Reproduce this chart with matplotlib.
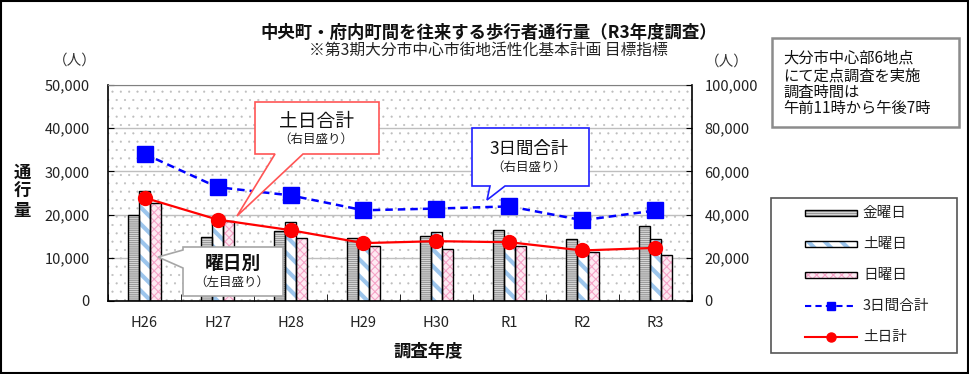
import numpy as np
import matplotlib
matplotlib.use("Agg")
import matplotlib.pyplot as plt
from matplotlib.patches import Rectangle, Polygon
from matplotlib.lines import Line2D
from matplotlib.ticker import FuncFormatter, MultipleLocator

plt.rcParams['font.family'] = ['Noto Sans CJK JP', 'DejaVu Sans']

# ---- data ----
years = ["H26", "H27", "H28", "H29", "H30", "R1", "R2", "R3"]
friday = [19900, 14900, 16300, 14600, 15100, 16400, 14400, 17300]
saturday = [25400, 19200, 18300, 14000, 15900, 14500, 12000, 14300]
sunday = [22800, 18500, 14600, 12800, 12100, 12800, 11400, 10700]
total_3days = [68100, 52700, 48900, 42000, 42800, 43800, 37400, 41900]
total_weekend = [47800, 37700, 32800, 26800, 27700, 27200, 23400, 24600]
legend_labels = ["金曜日", "土曜日", "日曜日", "3日間合計", "土日計"]

W, H = 970, 374
fig = plt.figure(figsize=(W / 100, H / 100), dpi=100)
fig.patch.set_facecolor('white')


def with_hlw(artist, lw):
    """Draw artist with a specific hatch line width."""
    try:
        artist.set_hatch_linewidth(lw)
    except AttributeError:
        pass
    orig = artist.draw

    def draw(renderer, _orig=orig, _lw=lw):
        with plt.rc_context({'hatch.linewidth': _lw}):
            _orig(renderer)
    artist.draw = draw
    return artist


ax = fig.add_axes([108 / W, 1 - 301 / H, 584 / W, 216 / H])
ax.set_xlim(-0.5, len(years) - 0.5)
ax.set_ylim(0, 50000)

# dotted background
bg = Rectangle((0, 0), 1, 1, transform=ax.transAxes, facecolor='white',
               edgecolor='#bdbdbd', hatch='..', linewidth=0, zorder=0.1)
with_hlw(bg, 0.3)
ax.add_patch(bg)
ax.yaxis.set_major_locator(MultipleLocator(10000))
ax.grid(axis='y', color='#bfbfbf', linewidth=1.0)
ax.set_axisbelow(True)

x = np.arange(len(years))
bw = 0.155

STYLES = [('#f0f0f0', '--------', '#9a9a9a', 1.0),
          ('white', '\\\\', '#9cc5ec', 3.0),
          ('#fdeaf2', 'xxxx', '#f5a3c7', 0.8)]


def hatched_bar(xs, vals, style):
    face, hatch, hcolor, hlw = style
    ax.bar(xs, vals, bw, color=face, edgecolor='none', linewidth=0, zorder=2)
    b2 = ax.bar(xs, vals, bw, color='none', edgecolor=hcolor, hatch=hatch,
                linewidth=0, zorder=2.1)
    for p in b2:
        with_hlw(p, hlw)
    ax.bar(xs, vals, bw, color='none', edgecolor='black', linewidth=1.0, zorder=2.2)


hatched_bar(x - bw, friday, STYLES[0])
hatched_bar(x, saturday, STYLES[1])
hatched_bar(x + bw, sunday, STYLES[2])

fmt = FuncFormatter(lambda v, p: f"{v:,.0f}")
ax.yaxis.set_major_formatter(fmt)
ax.set_xticks(x)
ax.set_xticklabels(years)
ax.set_xticks(np.arange(-0.5, len(years), 1), minor=True)
ax.tick_params(axis='x', which='major', length=0, pad=11, labelsize=10.5, labelcolor='#222222')
ax.tick_params(axis='x', which='minor', direction='in', length=5, color='black')
ax.tick_params(axis='y', direction='in', length=4, pad=13, labelsize=10.5, labelcolor='#222222')
for s in ['left', 'bottom', 'right']:
    ax.spines[s].set_color('black')
    ax.spines[s].set_linewidth(1.2)
ax.spines['top'].set_color('#808080')

ax2 = ax.twinx()
ax2.set_ylim(0, 100000)
ax2.yaxis.set_major_locator(MultipleLocator(20000))
ax2.yaxis.set_major_formatter(fmt)
ax2.tick_params(axis='y', direction='in', length=4, pad=9, labelsize=10.5, labelcolor='#222222')
for s in ax2.spines.values():
    s.set_visible(False)

ax2.plot(x, total_3days, color='#0000ff', linestyle=(0, (3, 2)), linewidth=1.8,
         marker='s', markersize=11, zorder=5)
ax2.plot(x, total_weekend, color='#ff0000', linestyle='-', linewidth=1.6,
         marker='o', markersize=10, zorder=6)

# ---- overlay in pixel coordinates ----
ov = fig.add_axes([0, 0, 1, 1], zorder=10)
ov.set_xlim(0, W)
ov.set_ylim(H, 0)
ov.axis('off')
ov.patch.set_visible(False)

# outer frame
ov.add_patch(Rectangle((1, 1), W - 2.5, H - 2.5, facecolor='none', edgecolor='black', linewidth=1.5))

# titles
ov.text(489, 33, "中央町・府内町間を往来する歩行者通行量（R3年度調査）", ha='center', va='center',
        fontsize=12.5, fontweight='bold', color='#111111')
ov.text(488, 50, "※第3期大分市中心市街地活性化基本計画 目標指標", ha='center', va='center',
        fontsize=11.3, color='#222222')
ov.text(75, 61, "（人）", ha='center', va='center', fontsize=10.5, color='#333333')
ov.text(727, 62, "（人）", ha='center', va='center', fontsize=10.5, color='#333333')
ov.text(22, 192, "通\n行\n量", ha='center', va='center', fontsize=12.5, fontweight='bold',
        linespacing=1.05, color='#111111')
ov.text(428, 352, "調査年度", ha='center', va='center', fontsize=12.5, fontweight='bold', color='#111111')

# info box
ov.add_patch(Rectangle((772, 38), 187, 89, facecolor='white', edgecolor='#8c8c8c', linewidth=1.8))
for yy, t in zip([58, 76, 92, 108], ["大分市中心部6地点", "にて定点調査を実施", "調査時間は", "午前11時から午後7時"]):
    ov.text(783, yy, t, ha='left', va='center', fontsize=11, color='#111111')

# callouts
ov.add_patch(Polygon([(255, 102), (379, 102), (379, 154), (303, 154), (237, 216), (275, 154), (255, 154)],
                     closed=True, facecolor='white', edgecolor='#ff5555', linewidth=1.2))
ov.text(317, 121, "土日合計", ha='center', va='center', fontsize=13.5, color='#111111')
ov.text(316, 139, "（右目盛り）", ha='center', va='center', fontsize=9, color='#222222')

ov.add_patch(Polygon([(472, 128), (589, 128), (589, 186), (505, 186), (487, 200), (490, 186), (472, 186)],
                     closed=True, facecolor='white', edgecolor='#1f1fff', linewidth=1.2))
ov.text(529, 149, "3日間合計", ha='center', va='center', fontsize=12.5, color='#111111')
ov.text(529, 167, "（右目盛り）", ha='center', va='center', fontsize=9, color='#222222')

ov.add_patch(Polygon([(183, 247), (283, 247), (283, 296), (183, 296), (183, 268), (158, 257), (183, 250)],
                     closed=True, facecolor='white', edgecolor='#a6a6a6', linewidth=1.2))
ov.text(233, 263, "曜日別", ha='center', va='center', fontsize=13.5, fontweight='bold', color='#111111')
ov.text(232, 282, "（左目盛り）", ha='center', va='center', fontsize=9, color='#222222')

# legend (drawn manually)
ov.add_patch(Rectangle((771, 198), 186, 155, facecolor='white', edgecolor='#555555', linewidth=1.2))
rows = [213, 244, 275, 306, 337]
for i, st in enumerate(STYLES):
    face, hatch, hcolor, hlw = st
    y0 = rows[i] - 3
    ov.add_patch(Rectangle((805, y0), 52, 6, facecolor=face, edgecolor='none', linewidth=0))
    hp = Rectangle((805, y0), 52, 6, facecolor='none', edgecolor=hcolor, hatch=hatch, linewidth=0)
    with_hlw(hp, hlw)
    ov.add_patch(hp)
    ov.add_patch(Rectangle((805, y0), 52, 6, facecolor='none', edgecolor='black', linewidth=1.0))
ov.add_line(Line2D([805, 857], [rows[3], rows[3]], color='#0000ff', linestyle=(0, (3, 2)), linewidth=1.5))
ov.add_line(Line2D([831], [rows[3]], color='#0000ff', marker='s', markersize=6, linestyle='none'))
ov.add_line(Line2D([805, 857], [rows[4], rows[4]], color='#ff0000', linewidth=1.5))
ov.add_line(Line2D([831], [rows[4]], color='#ff0000', marker='o', markersize=6.5, linestyle='none'))
for yy, t in zip(rows, legend_labels):
    ov.text(863, yy, t, ha='left', va='center', fontsize=10.5, color='#222222')

fig.savefig("out.png", dpi=100)
